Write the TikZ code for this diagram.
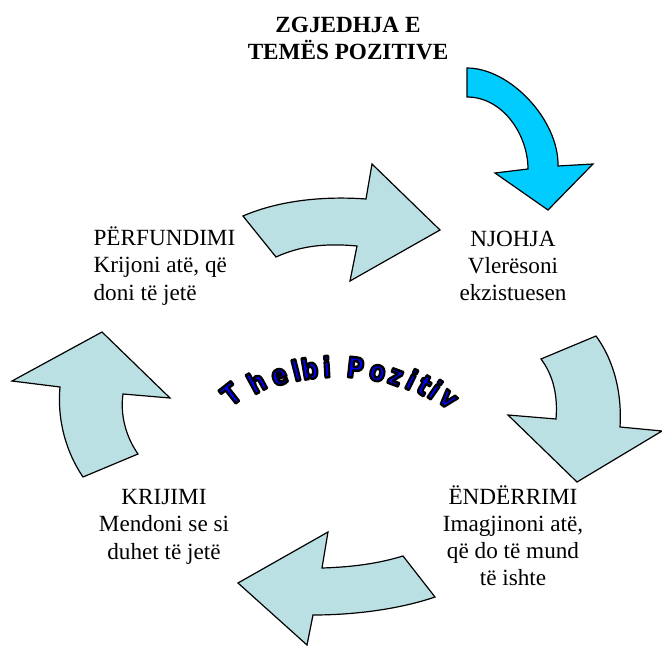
\documentclass[tikz,border=0pt]{standalone}
\usepackage{fontspec}
\setmainfont{Liberation Serif}
\newfontfamily\artfont{DejaVu Sans}
\usepackage{xcolor}
\usepackage{graphicx}
\usepackage{tikz}
\usetikzlibrary{calc}

\definecolor{paleteal}{RGB}{187,224,227}
\definecolor{skycyan}{RGB}{0,204,255}

% glyphs filled with the text colour and outlined in black
\newcommand\strokedchar[1]{%
  \special{pdf:literal direct 2 Tr 1.6 w 1 j 0 0 0 RG}#1\special{pdf:literal direct 0 Tr}}

\begin{document}
\begin{tikzpicture}[
  x=0.75pt, y=-0.75pt,
  font=\fontsize{17.4}{20.3}\selectfont,
  phase/.style={
    align=center,
    anchor=base,
    inner sep=0pt
  },
  flow/.style={draw=black, line width=0.9pt, fill=paleteal, line join=miter},
  artletter/.style={font=\artfont\bfseries\fontsize{17.5}{17.5}\selectfont, text=blue, anchor=base, inner sep=0pt}
]
  \useasboundingbox (0,0) rectangle (662,646);

  % labels (placed by the baseline of their last line)
  \node[phase, font=\fontsize{17.4}{20.3}\selectfont\bfseries] (theme) at (348,59.3) {ZGJEDHJA E\\TEMËS POZITIVE};
  \node[phase] (njohja) at (513,300.5) {NJOHJA\\Vlerësoni\\ekzistuesen};
  \node[phase] (enderrimi) at (513,585.3) {ËNDËRRIMI\\Imagjinoni atë,\\që do të mund\\të ishte};
  \node[phase] (krijimi) at (164,559) {KRIJIMI\\Mendoni se si\\duhet të jetë};
  \node[phase, align=left, anchor=base west] (perfundimi) at (93.3,300) {PËRFUNDIMI\\Krijoni atë, që\\doni të jetë};

  % start arrow
  \draw[flow, fill=skycyan] (467,68) .. controls (510,68) and (559,120) .. (558,166)
    -- (593,164) -- (548,210) -- (495,173) -- (528,169)
    .. controls (528,135) and (503,97) .. (467,97) -- cycle;

  % cycle arrows
  \draw[flow] (243,216) .. controls (280,200) and (325,196) .. (366,199)
    -- (372,164) -- (440,230) -- (350,281) -- (357,246)
    .. controls (325,243) and (300,246) .. (276,257) -- cycle;
  \draw[flow] (541,359) -- (596,336) .. controls (615,362) and (622,395) .. (620,427)
    -- (662,431) -- (577,482) -- (508,415) -- (556,419)
    .. controls (558,395) and (553,375) .. (541,359) -- cycle;
  \draw[flow] (403,556) -- (435,597) .. controls (400,609) and (355,615) .. (313,615)
    -- (307,645) -- (238,583) -- (328,532) -- (322,568)
    .. controls (355,567) and (380,563) .. (403,556) -- cycle;
  \draw[flow] (102,332) -- (170,398) -- (123,394)
    .. controls (120,415) and (126,437) .. (138,454) -- (83,477)
    .. controls (66,452) and (57,420) .. (60,387) -- (12,381) -- cycle;

  % arched title
  \coordinate (archc) at (337,588);
  \foreach \ang/\ch [count=\i] in {-28.2/T,-21/h,-15/e,-10.5/l,-7/b,-2.6/i,4.7/P,10.5/o,15.3/z,19.4/i,23/t,25.9/i,30/v}{
    \path (archc) ++(-90+\ang:211) coordinate (a\i);
    \node[artletter, rotate={-1.35*(\ang)}] (w\i) at (a\i) {\scalebox{1}[1.2]{\strokedchar{\ch}}};
  }
\end{tikzpicture}
\end{document}
